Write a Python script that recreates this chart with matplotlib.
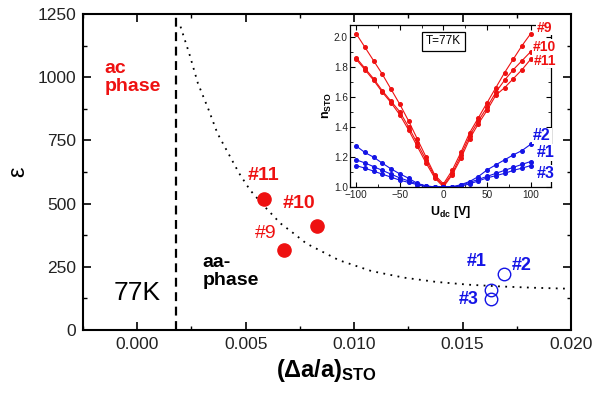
import numpy as np
import matplotlib
matplotlib.use("Agg")
import matplotlib.pyplot as plt

plt.rcParams['font.family'] = ['Liberation Sans', 'DejaVu Sans']
plt.rcParams['mathtext.fontset'] = 'custom'
plt.rcParams['mathtext.rm'] = 'Liberation Sans'
plt.rcParams['mathtext.bf'] = 'Liberation Sans:bold'
plt.rcParams['mathtext.it'] = 'Liberation Sans:italic'

RED = '#ee1111'
BLUE = '#1414e6'

# main panel: permittivity vs lattice strain
red_x = [0.00586, 0.00831, 0.00676]
red_eps = [517, 411, 316]
red_names = ['#11', '#10', '#9']
blue_x = [0.01689, 0.01629, 0.01629]
blue_eps = [221, 158, 124]
blue_names = ['#2', '#1', '#3']

# dotted guide curve
guide_x = [0.0020, 0.0024, 0.0028, 0.0033, 0.0037, 0.0042, 0.0047, 0.0052,
           0.0058, 0.0066, 0.0072, 0.0078, 0.0093, 0.0108, 0.0123, 0.0138,
           0.0153, 0.0168, 0.0183, 0.0200]
guide_eps = [1200, 1094, 976, 870, 778, 699, 620, 554, 495, 422, 383, 342,
             276, 233, 207, 190, 179, 172, 167, 163]
phase_border = 0.0018

# inset: tunability n vs dc voltage
u_dc = [-100, -90, -80, -70, -60, -50, -40, -30, -20, -10, 0,
        10, 20, 30, 40, 50, 60, 70, 80, 90, 100]
n9 = [2.02, 1.93, 1.84, 1.75, 1.65, 1.55, 1.44, 1.32, 1.20, 1.08, 1.02,
      1.11, 1.23, 1.36, 1.46, 1.56, 1.66, 1.76, 1.85, 1.94, 2.02]
n10 = [1.86, 1.79, 1.72, 1.64, 1.57, 1.50, 1.40, 1.29, 1.18, 1.07, 1.01,
       1.09, 1.21, 1.34, 1.44, 1.53, 1.63, 1.71, 1.78, 1.84, 1.90]
n11 = [1.85, 1.78, 1.71, 1.63, 1.56, 1.48, 1.38, 1.27, 1.16, 1.06, 1.00,
       1.08, 1.19, 1.32, 1.42, 1.51, 1.61, 1.66, 1.72, 1.78, 1.85]
n2 = [1.273, 1.229, 1.198, 1.158, 1.12, 1.087, 1.058, 1.024, 1.007, 1.0, 1.0,
      1.0, 1.015, 1.036, 1.069, 1.113, 1.147, 1.18, 1.213, 1.242, 1.284]
n1 = [1.18, 1.16, 1.135, 1.11, 1.085, 1.06, 1.04, 1.02, 1.005, 1.0, 1.0,
      1.0, 1.01, 1.03, 1.05, 1.07, 1.09, 1.11, 1.13, 1.15, 1.169]
n3 = [1.142, 1.125, 1.105, 1.085, 1.065, 1.045, 1.03, 1.015, 1.0, 1.0, 1.0,
      1.0, 1.005, 1.02, 1.04, 1.06, 1.075, 1.09, 1.11, 1.125, 1.142]

fig = plt.figure(figsize=(6.05, 3.96), dpi=100)
ax = fig.add_axes([0.137, 0.1667, 0.807, 0.798])

ax.plot(guide_x, guide_eps, ls=(0, (1, 3)), color='black', lw=1.3)
ax.axvline(phase_border, color='black', ls=(0, (4, 2.5)), lw=1.6)
ax.plot(red_x, red_eps, 'o', color=RED, ms=9.5, zorder=5)
ax.plot(blue_x, blue_eps, 'o', mfc='none', mec=BLUE, mew=1.0, ms=9, zorder=5)

# point labels
ax.text(0.0058, 613, '#11', color=RED, fontsize=14, fontweight='bold', ha='center', va='center')
ax.text(0.00746, 501, '#10', color=RED, fontsize=14, fontweight='bold', ha='center', va='center')
ax.text(0.00592, 380, '#9', color=RED, fontsize=14, ha='center', va='center')
ax.text(0.01567, 269, '#1', color=BLUE, fontsize=13, fontweight='bold', ha='center', va='center')
ax.text(0.0177, 257, '#2', color=BLUE, fontsize=13, fontweight='bold', ha='center', va='center')
ax.text(0.0153, 119, '#3', color=BLUE, fontsize=13, fontweight='bold', ha='center', va='center')

ax.text(-0.0015, 1000, 'ac\nphase', color=RED, fontsize=14, fontweight='bold',
        ha='left', va='center', linespacing=1.1)
ax.text(0.0030, 230, 'aa-\nphase', color='black', fontsize=14, fontweight='bold',
        ha='left', va='center', linespacing=1.1)
ax.text(0.0, 145, '77K', color='black', fontsize=19, ha='center', va='center')

ax.set_xlim(-0.002, 0.020)
ax.set_ylim(0, 1250)
ax.set_xticks([0.000, 0.005, 0.010, 0.015, 0.020])
ax.set_xticklabels(['0.000', '0.005', '0.010', '0.015', '0.020'])
ax.set_xticks(np.arange(-0.0025, 0.0201, 0.0025), minor=True)
ax.set_yticks([0, 250, 500, 750, 1000, 1250])
ax.set_yticks(np.arange(0, 1251, 125), minor=True)
ax.tick_params(which='both', direction='in', top=True, right=True,
               labelsize=12.5, colors='black', labelcolor='#222222')
ax.tick_params(which='major', length=6, width=1.2, pad=5)
ax.tick_params(which='minor', length=3, width=1.0)
for s in ax.spines.values():
    s.set_linewidth(1.5)
ax.set_xlabel(r'$\mathbf{(\Delta a/a)_{STO}}$', fontsize=17, labelpad=4)
ax.set_ylabel('ε', fontsize=17, labelpad=6)

# inset
ins = fig.add_axes([0.5785, 0.528, 0.332, 0.41])
for n in (n9, n10, n11):
    ins.plot(u_dc, n, '-o', color=RED, lw=0.8, ms=2.6)
for n in (n2, n1, n3):
    ins.plot(u_dc, n, '-o', color=BLUE, lw=0.8, ms=2.6)
ins.set_xlim(-107, 123)
ins.set_ylim(1.0, 2.08)
ins.set_xticks([-100, -50, 0, 50, 100])
ins.set_xticks(np.arange(-100, 101, 25), minor=True)
ins.set_yticks([1.0, 1.2, 1.4, 1.6, 1.8, 2.0])
ins.set_yticklabels(['1.0', '1.2', '1.4', '1.6', '1.8', '2.0'])
ins.set_yticks(np.arange(1.0, 2.05, 0.1), minor=True)
ins.tick_params(which='both', direction='in', top=True, right=True,
                labelsize=7.2, labelcolor='#222222')
ins.tick_params(axis='x', pad=2)
ins.tick_params(axis='y', pad=1.5)
ins.tick_params(which='major', length=3.5, width=0.8)
ins.tick_params(which='minor', length=2, width=0.6)
for s in ins.spines.values():
    s.set_linewidth(0.9)
ins.set_xlabel(r'$\mathbf{U_{dc}}$ [V]', fontsize=9, fontweight='bold', labelpad=3)
ins.set_ylabel(r'$\mathbf{n_{STO}}$', fontsize=9, labelpad=0)
ins.text(0.0, 1.97, 'T=77K', fontsize=8.5, ha='center', va='center',
         bbox=dict(boxstyle='square,pad=0.3', fc='white', ec='black', lw=0.9))

lab = dict(fontweight='bold', ha='center', va='center', clip_on=False,
           bbox=dict(boxstyle='square,pad=0.05', fc='white', ec='none'))
ins.text(116, 2.06, '#9', color=RED, fontsize=10, **lab)
ins.text(116, 1.93, '#10', color=RED, fontsize=10, **lab)
ins.text(116, 1.84, '#11', color=RED, fontsize=10, **lab)
ins.text(113, 1.34, '#2', color=BLUE, fontsize=11.5, **lab)
ins.text(117, 1.23, '#1', color=BLUE, fontsize=11.5, **lab)
ins.text(117, 1.09, '#3', color=BLUE, fontsize=11.5, **lab)

fig.savefig('out.png', dpi=100)
